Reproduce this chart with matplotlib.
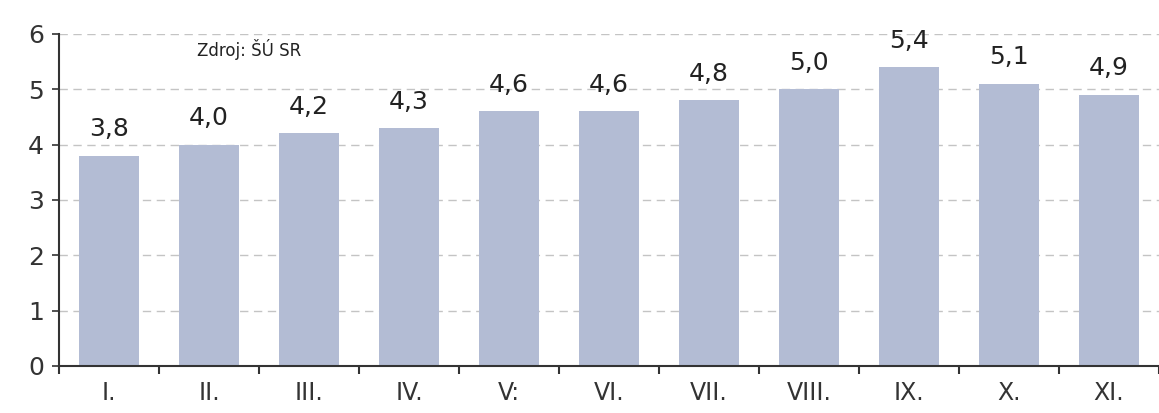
import numpy as np
import matplotlib
matplotlib.use('Agg')
import matplotlib.pyplot as plt

months = ['I.', 'II.', 'III.', 'IV.', 'V:', 'VI.', 'VII.', 'VIII.', 'IX.', 'X.', 'XI.']
values = [3.8, 4.0, 4.2, 4.3, 4.6, 4.6, 4.8, 5.0, 5.4, 5.1, 4.9]
labels = ['3,8', '4,0', '4,2', '4,3', '4,6', '4,6', '4,8', '5,0', '5,4', '5,1', '4,9']

fig = plt.figure(figsize=(11.59, 4.13), dpi=100)
ax = fig.add_axes([0.051, 0.114, 0.949, 0.804])

x = np.arange(len(months))
ax.bar(x, values, width=0.6, color='#b3bcd4', zorder=2)

for xi, v, lab in zip(x, values, labels):
    ax.text(xi, v + 0.26, lab, ha='center', va='bottom', fontsize=18,
            color='#222222')

ax.set_xlim(-0.5, 10.47)
ax.set_ylim(0, 6)
ax.set_yticks(range(0, 7))
ax.yaxis.grid(True, linestyle=(0, (6, 4)), color='#c4c4c4', linewidth=1, zorder=0)

ax.set_xticks(x)
ax.set_xticklabels(months)
ax.set_xticks(np.arange(-0.5, 11, 1), minor=True)
ax.tick_params(axis='x', which='major', length=0, pad=11, labelsize=17, labelcolor='#333333')
ax.tick_params(axis='x', which='minor', length=6, width=1.5, color='#333333')
ax.tick_params(axis='y', length=5, width=1.2, color='#333333', labelsize=18,
               labelcolor='#333333', pad=6)

for s in ['top', 'right']:
    ax.spines[s].set_visible(False)
ax.spines['left'].set_color('#333333')
ax.spines['left'].set_linewidth(1.5)
ax.spines['bottom'].set_color('#333333')
ax.spines['bottom'].set_linewidth(1.5)

ax.text(0.88, 5.71, 'Zdroj: ŠÚ SR', fontsize=12, color='#222222', va='center',
        family=['Liberation Sans Narrow', 'DejaVu Sans'])

fig.savefig('out.png', dpi=100)
